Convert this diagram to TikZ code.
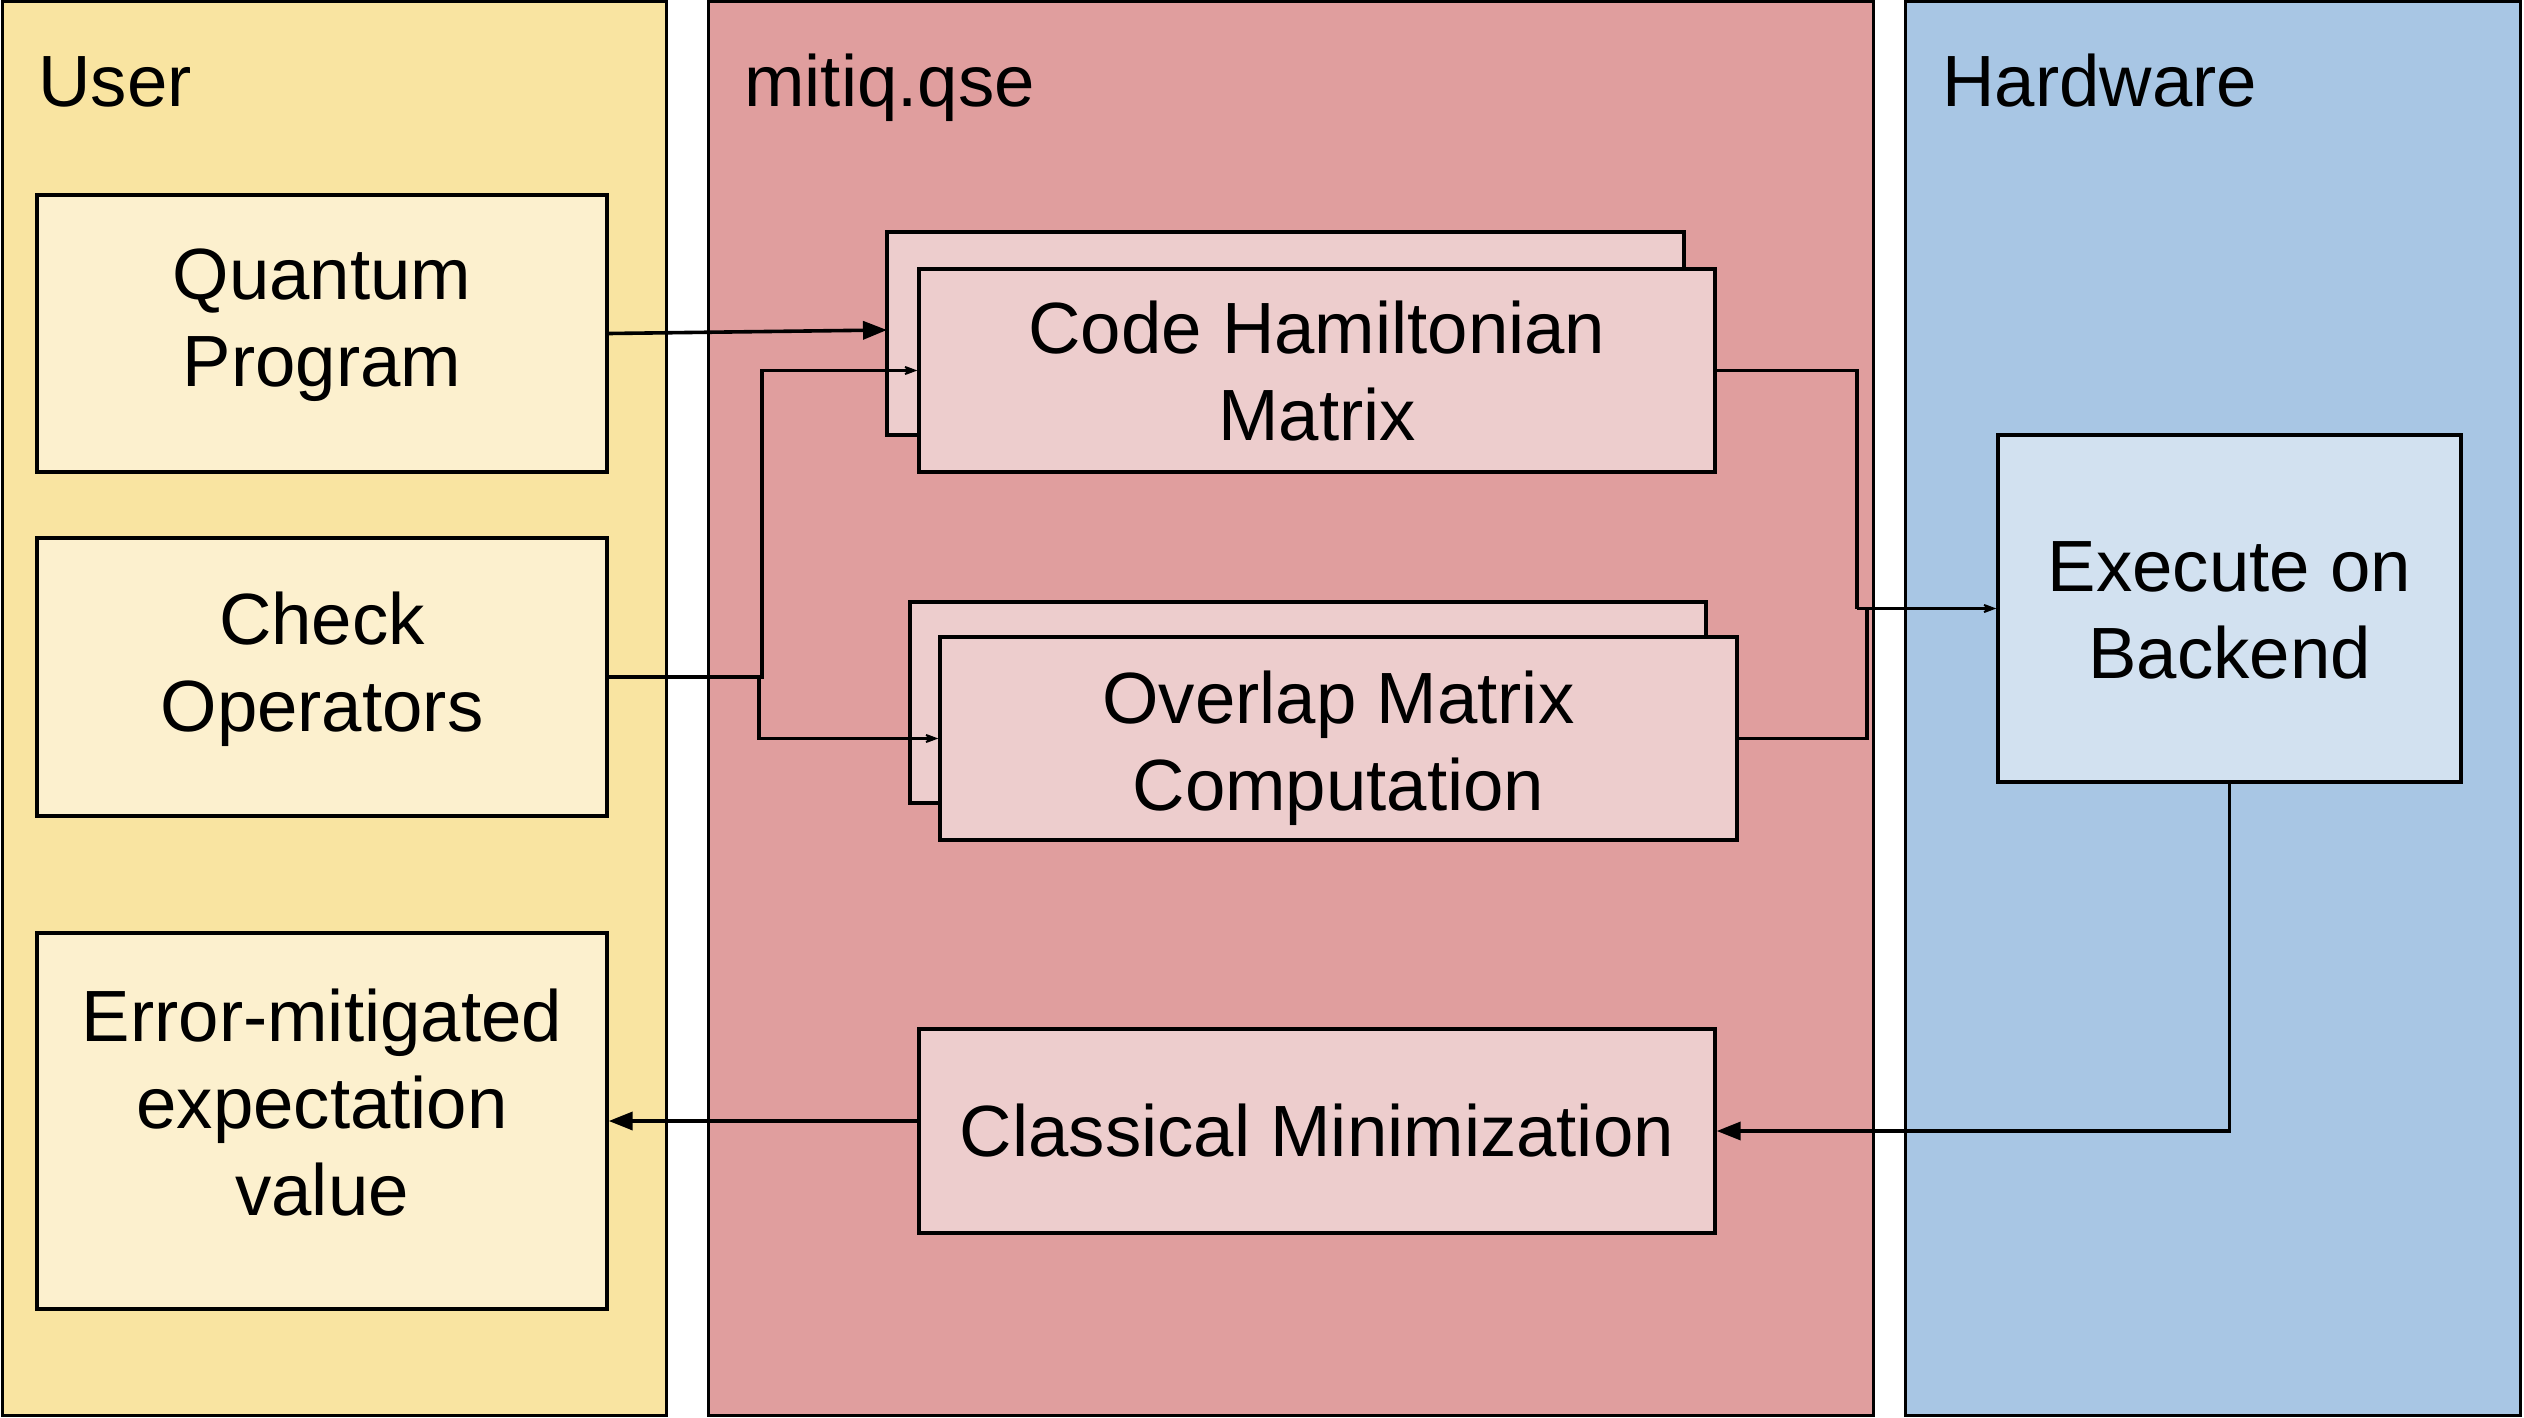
\documentclass[tikz,border=0pt]{standalone}
\usepackage{fontspec}
\setmainfont{Liberation Sans}
\usetikzlibrary{arrows.meta}
\definecolor{userpanel}{RGB}{249,228,161}
\definecolor{userbox}{RGB}{252,240,206}
\definecolor{qsepanel}{RGB}{224,158,158}
\definecolor{qsebox}{RGB}{237,205,205}
\definecolor{hwpanel}{RGB}{168,198,228}
\definecolor{hwbox}{RGB}{210,225,240}
\tikzset{
  panel/.style={draw=black, line width=1.5pt, rectangle, inner sep=0pt},
  box/.style={draw=black, line width=1.7pt, rectangle, inner sep=0pt},
  boxtext/.style={inner sep=0pt, align=center, font=\fontsize{36.3}{43.5}\selectfont},
  title/.style={anchor=base west, inner sep=0pt, font=\fontsize{36.3}{43.5}\selectfont},
  conn/.style={draw=black, line width=1.8pt},
  filledarr/.style={conn, -{Triangle[length=12pt,width=9pt]}},
  openarr/.style={conn, -{Stealth[length=12pt,width=9pt,inset=8pt]}},
}
\begin{document}
\begin{tikzpicture}[x=0.5pt,y=-0.5pt]
\useasboundingbox (0,0) rectangle (2524,1418);
\fill[white] (0,0) rectangle (2524,1418);
% panels
\node[panel, fill=userpanel, minimum width=332pt, minimum height=706.5pt] (user) at (334,708.5) {};
\node[panel, fill=qsepanel, minimum width=582.5pt, minimum height=706.5pt] (qse) at (1290.5,708.5) {};
\node[panel, fill=hwpanel, minimum width=307.5pt, minimum height=706.5pt] (hw) at (2212.5,708.5) {};
\node[title] (tuser) at (38,107) {User};
\node[title] (tqse) at (744,107) {mitiq.qse};
\node[title] (thw) at (1942,107) {Hardware};
% user boxes
\node[box, fill=userbox, minimum width=285pt, minimum height=138.5pt] (qp) at (322,333.5) {};
\node[boxtext, yshift=4pt] (qpt) at (qp) {Quantum\\Program};
\node[box, fill=userbox, minimum width=285pt, minimum height=139pt] (check) at (322,677) {};
\node[boxtext, yshift=4pt] (checkt) at (check) {Check\\Operators};
\node[box, fill=userbox, minimum width=285pt, minimum height=188pt] (err) at (322,1121) {};
\node[boxtext, yshift=9pt] (errt) at (err) {Error-mitigated\\expectation\\value};
% qse boxes
\node[box, fill=qsebox, minimum width=398.5pt, minimum height=101.5pt] (chback) at (1285.5,333.5) {};
\node[box, fill=qsebox, minimum width=398pt, minimum height=101.5pt] (chfront) at (1317,370.5) {};
\node[boxtext, yshift=-0.5pt] (chfrontt) at (chfront) {Code Hamiltonian\\Matrix};
\node[box, fill=qsebox, minimum width=398pt, minimum height=100.5pt] (ovback) at (1308,702.5) {};
\node[box, fill=qsebox, minimum width=398.5pt, minimum height=101.5pt] (ovfront) at (1338.5,738.5) {};
\node[boxtext, yshift=-5pt] (ovfrontt) at (ovfront) {Overlap Matrix\\Computation};
\node[box, fill=qsebox, minimum width=398pt, minimum height=102pt] (cm) at (1317,1131) {};
\node[boxtext] (cmt) at (cm) {Classical Minimization};
% hardware box
\node[box, fill=hwbox, minimum width=231.5pt, minimum height=173.5pt] (exe) at (2229.5,608.5) {};
\node[boxtext, yshift=-1pt] (exet) at (exe) {Execute on\\Backend};
% junction coordinates
\coordinate (qpin) at (887,330);
\coordinate (j1) at (762,677);
\coordinate (j2) at (759,677);
\coordinate (k1) at (1857,608.5);
\coordinate (k2) at (1867,608.5);
% connectors
\draw[filledarr] (qp.east) -- (qpin);
\draw[openarr] (check.east) -- (j1) |- (chfront.west);
\draw[openarr] (j2) |- (ovfront.west);
\draw[conn] (chfront.east) -| (k1);
\draw[conn] (ovfront.east) -| (k2);
\draw[openarr] (k1) -- (exe.west);
\draw[filledarr] (exe.south) |- (cm.east);
\draw[filledarr] (cm.west |- err.east) -- (err.east);
\end{tikzpicture}
\end{document}
